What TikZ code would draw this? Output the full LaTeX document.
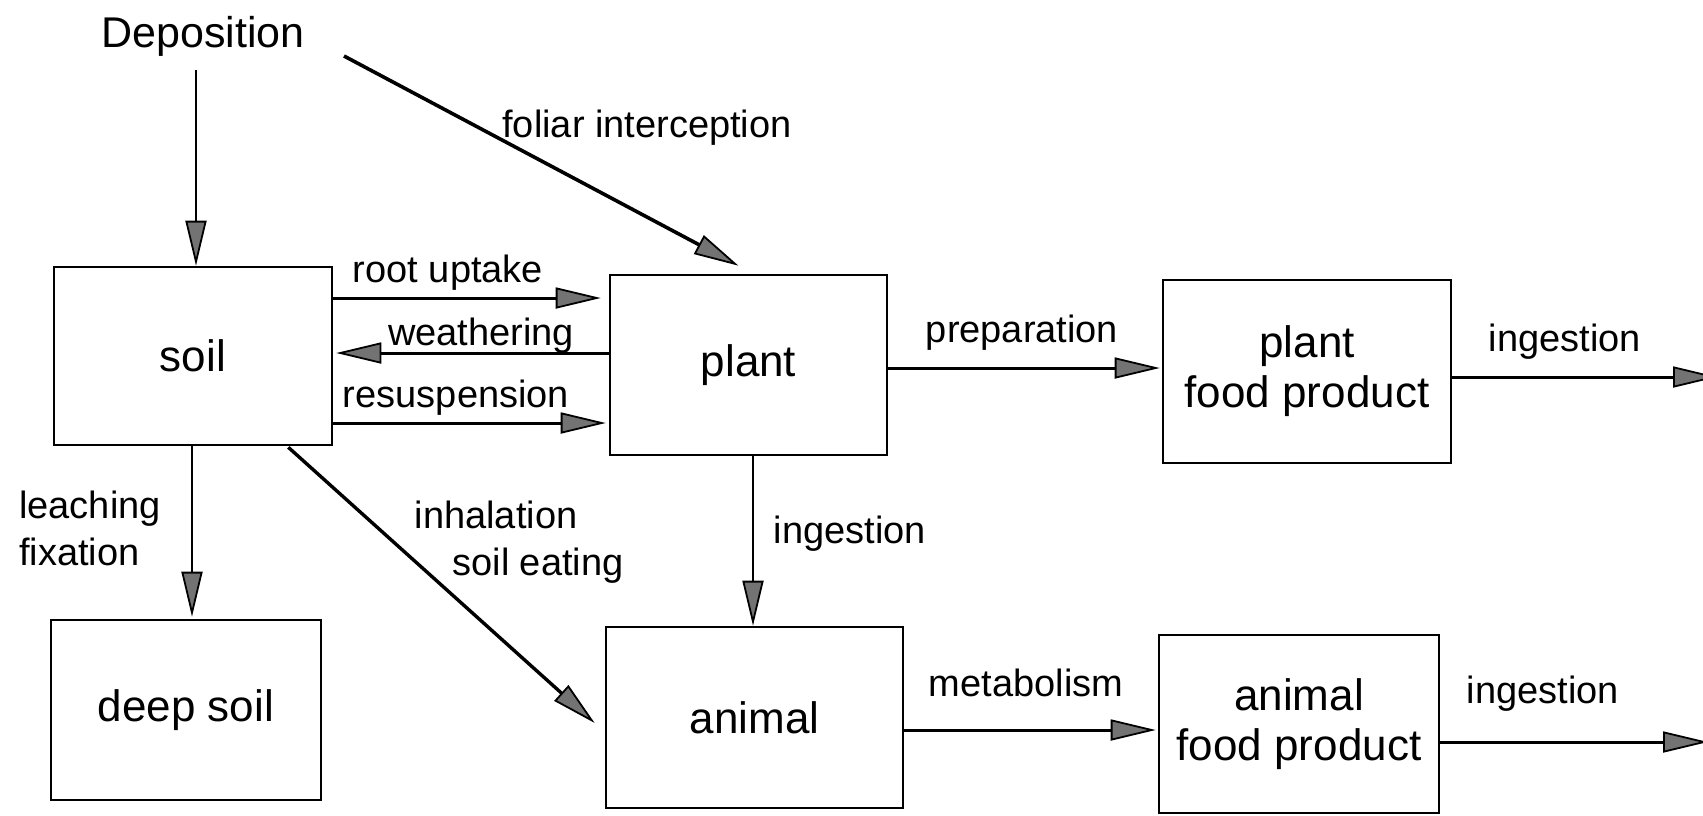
\documentclass[tikz,border=0pt]{standalone}
\usepackage{fontspec}
\setmainfont{Liberation Sans}
\usetikzlibrary{arrows.meta,calc}

\begin{document}
\begin{tikzpicture}[x=1pt,y=-1pt,
  box/.style={draw, line width=2.6pt, inner sep=0pt, align=center,
              font=\fontsize{44}{50}\selectfont},
  lbl/.style={inner sep=0pt, anchor=base, font=\fontsize{38}{46}\selectfont},
  flow/.style={line width=3pt,
               -{Triangle[length=45pt,width=21pt,fill=black!55,line width=1.8pt]}},
  thinflow/.style={flow, line width=2pt},
]
% page frame
\fill[white] (0,0) rectangle (1703,815);
\useasboundingbox (0,0) rectangle (1703,815);

% compartments
\node[box, minimum width=278pt, minimum height=178pt] (soil)   at (193,356)    {soil};
\node[box, minimum width=277pt, minimum height=180pt] (plant)  at (748.5,365)  {plant};
\node[box, minimum width=288pt, minimum height=183pt] (pfp)    at (1307,371.5) {plant\\food product};
\node[box, minimum width=270pt, minimum height=180pt] (deep)   at (186,710)    {deep soil};
\node[box, minimum width=297pt, minimum height=181pt] (animal) at (754.5,717.5) {animal};
\node[box, minimum width=280pt, minimum height=178pt] (afp)    at (1299,724)   {animal\\food product};

% source
\node[lbl, font=\fontsize{43}{50}\selectfont] (dep) at (203,47) {Deposition};

% free ends
\coordinate (d0)   at (196,70);
\coordinate (f0)   at (344,56);
\coordinate (out1) at (1718,377);
\coordinate (out2) at (1708,742);

% transfers
\draw[thinflow] (d0) -- (d0 |- soil.north);
\draw[flow, line width=3.6pt] (f0) -- ($(plant.north)+(-10,-8)$);
\draw[flow, shorten >=8pt] (soil.east |- 0,298) -- (plant.west |- 0,298);
\draw[flow, shorten >=3pt] (plant.west |- 0,353) -- (soil.east |- 0,353);
\draw[flow, shorten >=3pt] (soil.east |- 0,423) -- (plant.west |- 0,423);
\draw[flow, shorten >=2pt] (plant.east |- 0,368) -- (pfp.west |- 0,368);
\draw[flow] (pfp.east |- 0,377) -- (out1);
\draw[thinflow, shorten >=2pt] (soil.south -| 192,0) -- (deep.north -| 192,0);
\draw[flow, line width=3.4pt] ($(soil.south east)+(-45,1)$) -- ($(animal.west)+(-10,5.5)$);
\draw[thinflow] (plant.south -| 753,0) -- (animal.north -| 753,0);
\draw[flow, shorten >=2pt] (animal.east |- 0,730) -- (afp.west |- 0,730);
\draw[flow] (afp.east |- 0,742) -- (out2);

% transfer labels
\node[lbl] (lfol)  at (647,137)  {foliar interception};
\node[lbl] (lroot) at (448,282)  {root uptake};
\node[lbl] (lwea)  at (481,345)  {weathering};
\node[lbl] (lres)  at (456,407)  {resuspension};
\node[lbl] (lprep) at (1022,342) {preparation};
\node[lbl] (ling1) at (1565,351) {ingestion};
\node[lbl, anchor=base west] (lleach) at (19,518) {leaching};
\node[lbl, anchor=base west] (lfix)   at (19,565) {fixation};
\node[lbl] (linh)  at (496,528)  {inhalation};
\node[lbl] (leat)  at (538,575)  {soil eating};
\node[lbl] (ling2) at (850,543)  {ingestion};
\node[lbl] (lmet)  at (1026,696) {metabolism};
\node[lbl] (ling3) at (1543,703) {ingestion};
\end{tikzpicture}
\end{document}
